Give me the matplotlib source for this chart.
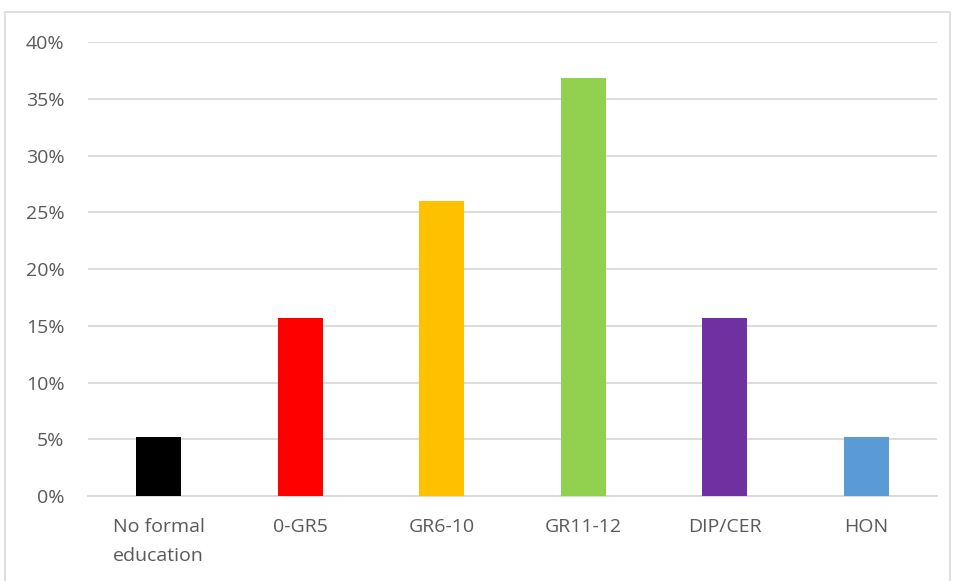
import matplotlib
matplotlib.use("Agg")
import matplotlib.pyplot as plt
from matplotlib.patches import Rectangle
from matplotlib.ticker import PercentFormatter

categories = ["No formal\neducation", "0-GR5", "GR6-10", "GR11-12", "DIP/CER", "HON"]
shares = [5.2, 15.7, 26.0, 36.8, 15.7, 5.2]
colors = ["#000000", "#FF0000", "#FFC000", "#92D050", "#7030A0", "#5B9BD5"]

plt.rcParams["font.family"] = ["Open Sans", "DejaVu Sans"]
text_color = "#595959"
grid_color = "#D9D9D9"

fig = plt.figure(figsize=(9.55, 5.81), dpi=100)
ax = fig.add_axes([0.0921, 0.1463, 0.8890, 0.7814])

x = range(len(categories))
ax.bar(x, shares, width=0.32, color=colors, zorder=3)

ax.set_ylim(0, 40)
ax.set_xlim(-0.5, len(categories) - 0.5)
ax.set_yticks(range(0, 41, 5))
ax.yaxis.set_major_formatter(PercentFormatter(decimals=0))
ax.set_xticks(list(x))
ax.set_xticklabels(categories, linespacing=1.75, va="top")

ax.grid(axis="y", color=grid_color, linewidth=1.3, zorder=0)
for side in ["top", "right", "left"]:
    ax.spines[side].set_visible(False)
ax.spines["bottom"].set_color(grid_color)
ax.spines["bottom"].set_linewidth(1.3)

ax.tick_params(axis="both", length=0, labelsize=14, colors=text_color)
ax.tick_params(axis="y", pad=17)
ax.tick_params(axis="x", pad=16)

# light frame around the whole chart
fig.patches.append(Rectangle((5 / 955, -0.01), 945 / 955, 1 - 12 / 581 + 0.01,
                             transform=fig.transFigure, fill=False,
                             edgecolor=grid_color, linewidth=1.2))

fig.savefig("out.png", dpi=100)
